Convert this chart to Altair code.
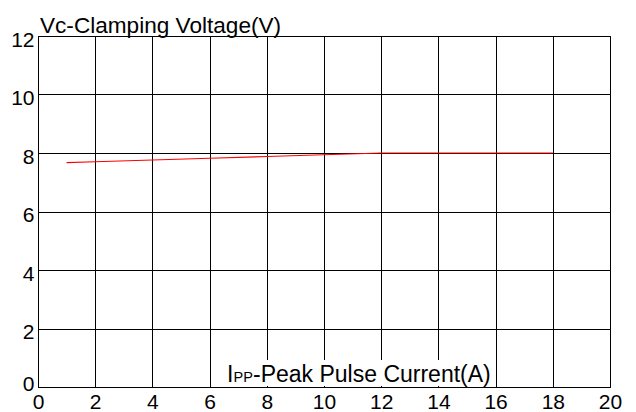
import altair as alt
import pandas as pd

# Data
current_a = [1, 2, 4, 6, 8, 10, 12, 14, 16, 18]
clamp_v = [7.67, 7.70, 7.76, 7.82, 7.88, 7.94, 8.0, 8.0, 8.0, 8.0]
x_ticks = [0, 2, 4, 6, 8, 10, 12, 14, 16, 18, 20]
y_ticks = [0, 2, 4, 6, 8, 10, 12]
y_title = "Vc-Clamping Voltage(V)"
x_title_parts = ["I", "PP", "-Peak Pulse Current(A)"]

FONT = "Liberation Sans"
df = pd.DataFrame({"x": current_a, "y": clamp_v})
one = pd.DataFrame({"k": [0]})

line = alt.Chart(df).mark_line(color="#ff0000", strokeWidth=1.2).encode(
    x=alt.X("x:Q", scale=alt.Scale(domain=[0, 20], nice=False),
            axis=alt.Axis(values=x_ticks, title=None, grid=True, gridColor="#000000",
                          gridOpacity=1, gridWidth=1, ticks=False, domainColor="#000000",
                          labelFont=FONT, labelFontSize=21, labelColor="#000000",
                          labelPadding=4, labelFlush=False)),
    y=alt.Y("y:Q", scale=alt.Scale(domain=[0, 12], nice=False),
            axis=alt.Axis(values=y_ticks, title=None, grid=True, gridColor="#000000",
                          gridOpacity=1, gridWidth=1, ticks=False, domainColor="#000000",
                          labelFont=FONT, labelFontSize=21, labelColor="#000000",
                          labelPadding=4, labelFlush=False,
                          labelOffset=alt.condition("datum.value == 0", alt.value(-3), alt.value(4)))),
)

box = alt.Chart(one).mark_rect(fill="white").encode(
    x=alt.value(173), x2=alt.value(456), y=alt.value(324), y2=alt.value(350)
)

t1 = alt.Chart(one).mark_text(text=x_title_parts[0], font=FONT, fontSize=23, align="left",
                               baseline="alphabetic", color="black").encode(
    x=alt.value(189), y=alt.value(346))
t2 = alt.Chart(one).mark_text(text=x_title_parts[1], font=FONT, fontSize=14.5, align="left",
                               baseline="alphabetic", color="black").encode(
    x=alt.value(195.5), y=alt.value(346))
t3 = alt.Chart(one).mark_text(text=x_title_parts[2], font=FONT, fontSize=23, align="left",
                               baseline="alphabetic", color="black").encode(
    x=alt.value(215), y=alt.value(346))
ty = alt.Chart(one).mark_text(text=y_title, font=FONT, fontSize=22.6, align="left",
                               baseline="alphabetic", color="black").encode(
    x=alt.value(2), y=alt.value(-3))

chart = alt.layer(line, box, t1, t2, t3, ty).properties(
    width=572, height=351,
    autosize=alt.AutoSizeParams(type="none"),
    padding={"left": 30, "top": 28, "right": 18, "bottom": 25},
    background="white",
).configure_view(stroke="#000000", strokeWidth=1)

chart.save("out.html", embed_options={"renderer": "svg", "actions": False})
